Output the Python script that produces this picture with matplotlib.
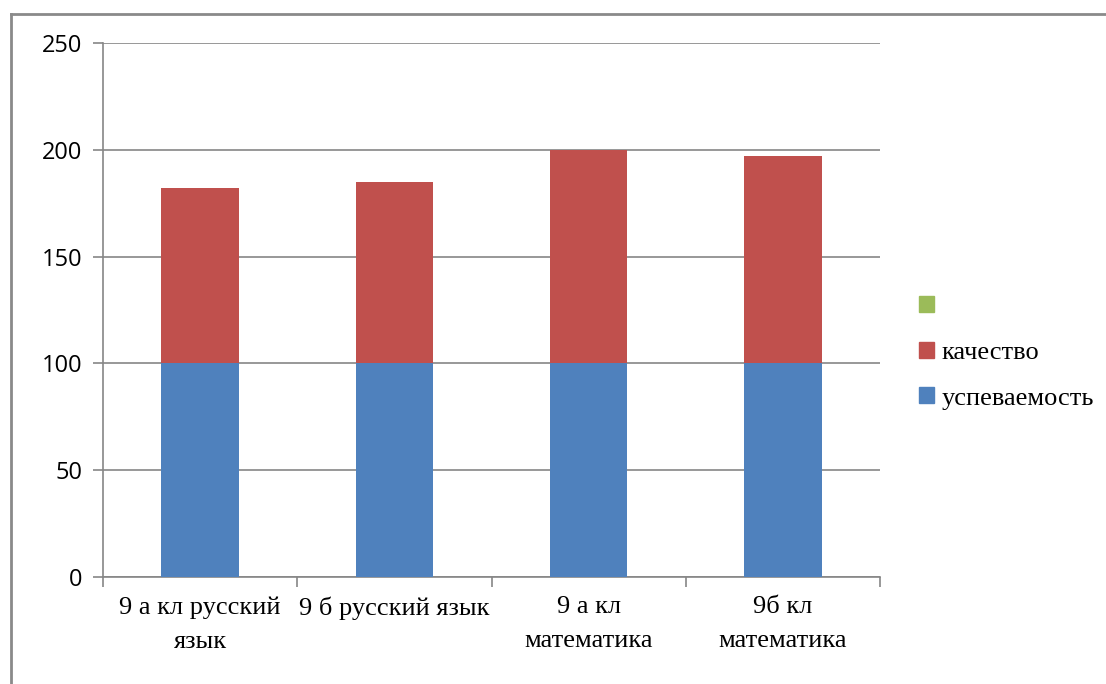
import matplotlib
matplotlib.use("Agg")
import matplotlib.pyplot as plt
import numpy as np
from matplotlib.lines import Line2D
from matplotlib.patches import Patch

categories = ["9 а кл русский\nязык", "9 б русский язык", "9 а кл\nматематика", "9б кл\nматематика"]
uspevaemost = [100, 100, 100, 100]
kachestvo = [82, 85, 100, 97]
series3 = [0, 0, 0, 0]
yticks = [0, 50, 100, 150, 200, 250]

c_blue = "#4f81bd"
c_red = "#c0504d"
c_green = "#9bbb59"
grid_c = "#868686"

W, H = 1106, 684
fig = plt.figure(figsize=(W / 100, H / 100), dpi=100)
L, R, T, B = 103, 880, 43, 577
ax = fig.add_axes([L / W, 1 - B / H, (R - L) / W, (B - T) / H])

x = np.arange(len(categories))
ax.bar(x, uspevaemost, width=0.4, color=c_blue, zorder=3)
ax.bar(x, kachestvo, width=0.4, bottom=uspevaemost, color=c_red, zorder=3)
ax.bar(x, series3, width=0.4, bottom=np.add(uspevaemost, kachestvo), color=c_green, zorder=3)

ax.set_xlim(-0.5, len(categories) - 0.5)
ax.set_ylim(0, 250)
ax.set_yticks(yticks)
ax.set_yticklabels([str(v) for v in yticks], fontsize=17, family="Open Sans")
ax.yaxis.grid(True, color=grid_c, linewidth=1.2, zorder=0)
ax.set_axisbelow(True)

ax.set_xticks(x)
ax.set_xticklabels(categories, fontsize=19, family="Liberation Serif", linespacing=1.7)
ax.tick_params(axis="x", length=0, pad=14)
ax.set_xticks(np.arange(-0.5, len(categories)), minor=True)
ax.tick_params(axis="x", which="minor", length=7, color=grid_c, width=1.2)
ax.tick_params(axis="y", length=7, color=grid_c, width=1.2, pad=8)

for s in ["top", "right"]:
    ax.spines[s].set_visible(False)
for s in ["left", "bottom"]:
    ax.spines[s].set_color(grid_c)
    ax.spines[s].set_linewidth(1.2)

handles = [Patch(color=c_green, label=" "), Patch(color=c_red, label="качество"),
           Patch(color=c_blue, label="успеваемость")]
fig.legend(handles=handles, loc="center left", bbox_to_anchor=(919 / W, 1 - 353 / H),
           frameon=False, prop={"family": "Liberation Serif", "size": 19},
           handlelength=0.55, handleheight=0.55, handletextpad=0.3, labelspacing=0.88,
           borderpad=0, borderaxespad=0)

fig.add_artist(Line2D([10.5 / W, 10.5 / W], [0, 1 - 13.5 / H], color="#8a8a8a", lw=2, transform=fig.transFigure))
fig.add_artist(Line2D([10.5 / W, 1], [1 - 13.5 / H, 1 - 13.5 / H], color="#8a8a8a", lw=2, transform=fig.transFigure))

fig.savefig("out.png", dpi=100)
